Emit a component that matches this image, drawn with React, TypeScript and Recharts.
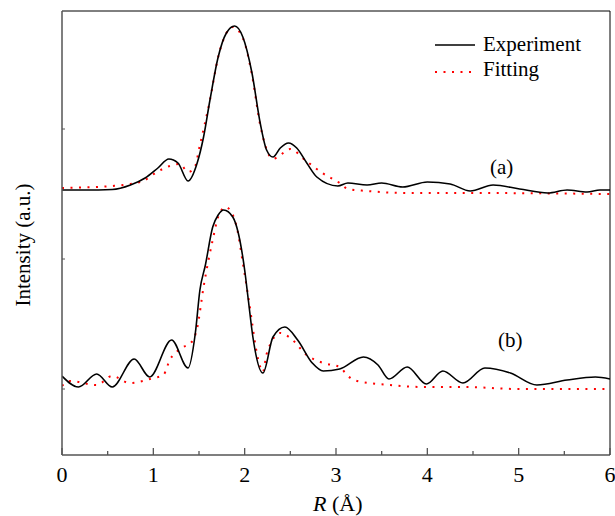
import { Line, LineChart, XAxis, YAxis } from "recharts";

// R (Å) and intensity (a.u.); curve (a) is offset above (b).
const expA_R = [0, 0.25, 0.55, 0.75, 0.91, 1.05, 1.17, 1.27, 1.38, 1.48, 1.55, 1.62, 1.71, 1.8, 1.89, 1.98, 2.08, 2.17, 2.24, 2.31, 2.39, 2.48, 2.57, 2.68, 2.79, 3.02, 3.13, 3.34, 3.5, 3.73, 4.0, 4.25, 4.47, 4.72, 5.01, 5.32, 5.53, 5.75, 5.89, 6.0];
const expA_I = [2.65, 2.65, 2.655, 2.7, 2.77, 2.87, 2.96, 2.92, 2.74, 2.92, 3.18, 3.55, 3.98, 4.22, 4.29, 4.18, 3.82, 3.32, 3.05, 2.98, 3.07, 3.12, 3.07, 2.92, 2.78, 2.69, 2.72, 2.7, 2.72, 2.68, 2.73, 2.71, 2.64, 2.7, 2.66, 2.62, 2.65, 2.63, 2.65, 2.65];

const fitA_R = [0, 0.55, 0.75, 0.89, 1.04, 1.18, 1.29, 1.38, 1.45, 1.51, 1.62, 1.71, 1.8, 1.87, 1.98, 2.08, 2.17, 2.31, 2.39, 2.5, 2.66, 2.85, 3.04, 3.13, 3.34, 3.78, 4.43, 6.0];
const fitA_I = [2.67, 2.69, 2.71, 2.74, 2.83, 2.89, 2.91, 2.83, 2.87, 3.1, 3.55, 3.98, 4.22, 4.28, 4.17, 3.8, 3.3, 2.96, 3.0, 3.06, 2.95, 2.82, 2.72, 2.66, 2.64, 2.62, 2.62, 2.61];

const expB_R = [0, 0.18, 0.38, 0.55, 0.79, 0.96, 1.2, 1.38, 1.46, 1.51, 1.57, 1.65, 1.71, 1.77, 1.87, 1.93, 2.0, 2.04, 2.09, 2.2, 2.31, 2.44, 2.58, 2.74, 2.86, 3.04, 3.3, 3.46, 3.58, 3.78, 3.99, 4.17, 4.39, 4.63, 4.91, 5.2, 5.53, 5.84, 6.0];
const expB_I = [0.79, 0.68, 0.81, 0.68, 0.96, 0.78, 1.15, 0.87, 1.22, 1.65, 1.9, 2.28, 2.4, 2.45, 2.38, 2.22, 1.85, 1.55, 1.18, 0.82, 1.18, 1.28, 1.15, 0.92, 0.84, 0.86, 0.98, 0.9, 0.76, 0.88, 0.71, 0.84, 0.72, 0.87, 0.82, 0.7, 0.75, 0.78, 0.76];

const fitB_R = [0, 0.09, 0.38, 0.55, 0.74, 1.0, 1.11, 1.18, 1.31, 1.42, 1.48, 1.55, 1.65, 1.71, 1.79, 1.86, 1.92, 1.98, 2.04, 2.15, 2.2, 2.24, 2.39, 2.5, 2.68, 2.86, 3.04, 3.13, 3.23, 3.59, 3.95, 4.43, 4.98, 6.0];
const fitB_I = [0.69, 0.74, 0.7, 0.79, 0.72, 0.77, 0.8, 0.95, 1.07, 1.13, 1.27, 1.68, 2.15, 2.38, 2.48, 2.42, 2.25, 1.92, 1.58, 0.95, 0.83, 1.01, 1.22, 1.17, 1.0, 0.92, 0.88, 0.79, 0.74, 0.7, 0.68, 0.68, 0.66, 0.66];

const X_TICKS = [0, 0.5, 1, 1.5, 2, 2.5, 3, 3.5, 4, 4.5, 5, 5.5, 6];
const Y_TICKS = [0.66, 1.96, 3.26];

const FONT = "'Liberation Serif', serif";
const AXIS_GRAY = "#555";

const pts = (r: number[], v: number[]) => r.map((x, i) => ({ r: x, v: v[i] }));

function XTick({ x, y, payload }: any) {
  const major = Number.isInteger(payload.value);
  return (
    <g>
      <line x1={x} x2={x} y1={y} y2={y - (major ? 7 : 4)} stroke={AXIS_GRAY} strokeWidth={1.3} />
      {major && (
        <text x={x} y={y + 27} textAnchor="middle" fontFamily={FONT} fontSize={22} fill="#000">
          {payload.value}
        </text>
      )}
    </g>
  );
}

const LeftTick = ({ x, y }: any) => (
  <line x1={x} x2={x + 3} y1={y} y2={y} stroke={AXIS_GRAY} strokeWidth={1} />
);
const RightTick = ({ x, y }: any) => (
  <line x1={x} x2={x - 3} y1={y} y2={y} stroke="#000" strokeWidth={1} />
);

export default function App() {
  const text = { position: "absolute" as const, fontFamily: FONT, color: "#000", lineHeight: 1, whiteSpace: "nowrap" as const };
  return (
    <div style={{ position: "absolute", left: 0, top: 0, width: 615, height: 516, background: "#fff" }}>
      <LineChart width={615} height={516} margin={{ top: 1, right: 0, left: 52, bottom: 31 }}>
        <XAxis
          dataKey="r"
          type="number"
          domain={[0, 6]}
          ticks={X_TICKS}
          interval={0}
          height={30}
          tickSize={0}
          tickMargin={0}
          tickLine={false}
          tick={<XTick />}
          axisLine={{ stroke: AXIS_GRAY, strokeWidth: 1.5 }}
          allowDataOverflow
        />
        <XAxis xAxisId="top" orientation="top" dataKey="r" type="number" domain={[0, 6]} height={10} tick={false} tickLine={false} axisLine={{ stroke: "#000" }} />
        <YAxis
          yAxisId="l"
          type="number"
          domain={[0, 4.44]}
          ticks={Y_TICKS}
          width={10}
          tickSize={0}
          tickMargin={0}
          tickLine={false}
          tick={<LeftTick />}
          axisLine={{ stroke: AXIS_GRAY, strokeWidth: 1.5 }}
          allowDataOverflow
        />
        <YAxis
          yAxisId="r"
          orientation="right"
          type="number"
          domain={[0, 4.44]}
          ticks={Y_TICKS}
          width={5}
          tickSize={0}
          tickMargin={0}
          tickLine={false}
          tick={<RightTick />}
          axisLine={{ stroke: "#000" }}
        />
        <Line yAxisId="l" data={pts(fitA_R, fitA_I)} dataKey="v" type="monotone" stroke="#ff0000" strokeWidth={2} strokeDasharray="2 6.5" dot={false} isAnimationActive={false} />
        <Line yAxisId="l" data={pts(fitB_R, fitB_I)} dataKey="v" type="monotone" stroke="#ff0000" strokeWidth={2} strokeDasharray="2 6.5" dot={false} isAnimationActive={false} />
        <Line yAxisId="l" data={pts(expA_R, expA_I)} dataKey="v" type="monotone" stroke="#000" strokeWidth={1.6} dot={false} isAnimationActive={false} />
        <Line yAxisId="l" data={pts(expB_R, expB_I)} dataKey="v" type="monotone" stroke="#000" strokeWidth={1.6} dot={false} isAnimationActive={false} />
      </LineChart>

      {/* legend */}
      <svg style={{ position: "absolute", left: 433, top: 38 }} width={46} height={40}>
        <line x1={2} x2={42} y1={7} y2={7} stroke="#000" strokeWidth={1.6} />
        <line x1={2} x2={42} y1={34} y2={34} stroke="#ff0000" strokeWidth={2} strokeDasharray="2 6.5" />
      </svg>
      <div style={{ ...text, left: 483, top: 34, fontSize: 21 }}>Experiment</div>
      <div style={{ ...text, left: 483, top: 59, fontSize: 21 }}>Fitting</div>

      {/* panel labels */}
      <div style={{ ...text, left: 490, top: 157, fontSize: 21 }}>(a)</div>
      <div style={{ ...text, left: 498, top: 330, fontSize: 21 }}>(b)</div>

      {/* axis titles */}
      <div style={{ ...text, left: 313, top: 493, fontSize: 22 }}>
        <i>R</i> (Å)
      </div>
      <div
        style={{
          ...text,
          left: 23,
          top: 245,
          fontSize: 21,
          transform: "translate(-50%, -50%) rotate(-90deg)",
        }}
      >
        Intensity (a.u.)
      </div>
    </div>
  );
}
